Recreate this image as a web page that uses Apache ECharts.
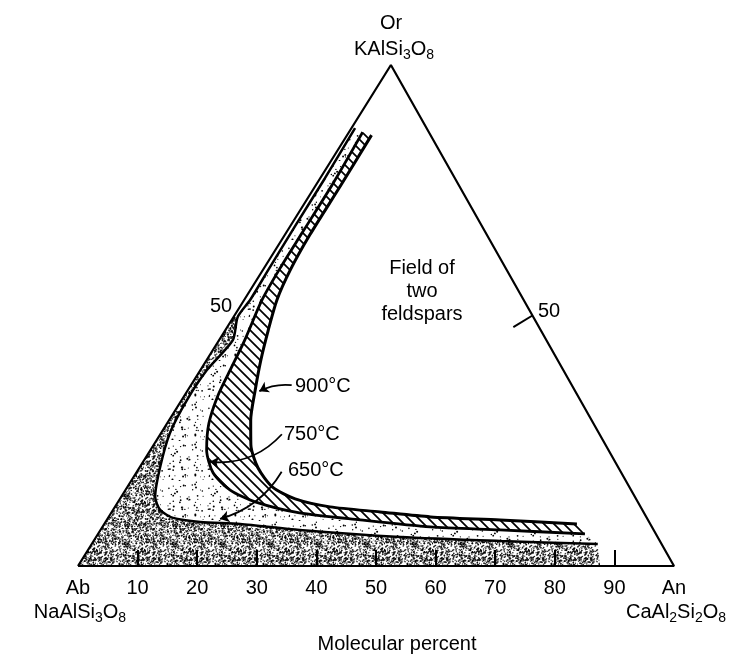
<!DOCTYPE html>
<html><head><meta charset="utf-8">
<script src="https://cdn.jsdelivr.net/npm/echarts@6/dist/echarts.min.js"></script>
<style>html,body{margin:0;padding:0;background:#fff}#c{width:731px;height:655px}</style>
</head><body><div id="c"></div>
<script>
// ---------------- data: compositions in mol % as [An, Or]  (Ab = 100 - An - Or) ----------------
const vertexAb = [0, 0];
const vertexAn = [100, 0];
const vertexOr = [0, 100];
const baseTicks = [10, 20, 30, 40, 50, 60, 70, 80, 90];
const baseLabelValues = [0, 10, 20, 30, 40, 50, 60, 70, 80, 90, 100];
const baseLabelNames = { 0: 'Ab', 100: 'An' };

// 900 °C solvus (outer limit of the hatched field)
const curve900 = [[4.1,86.0],[4.2,76.0],[4.2,66.1],[4.6,59.1],[5.5,53.1],[7.2,47.1],[9.1,41.1],[11.3,35.1],[13.7,29.1],[16.3,24.2],[19.9,19.6],[24.3,15.8],[29.4,13.4],[36.1,11.8],[45.0,10.8],[54.0,9.8],[66.0,9.2],[79.3,8.4]];
// 750 °C solvus
const curve750 = [[2.3,86.6],[2.7,76.4],[2.7,66.5],[2.7,59.5],[3.0,53.1],[4.3,45.1],[5.0,39.1],[5.6,34.1],[7.0,28.5],[9.4,23.2],[12.9,18.6],[17.5,15.2],[23.0,12.8],[31.6,10.6],[42.5,9.2],[55.0,7.8],[67.0,7.2],[81.7,6.4]];
// 650 °C solvus
const curve650 = [[0.6,87.4],[0.8,77.4],[0.8,67.9],[0.9,59.1],[1.0,53.1],[0.7,49.7],[2.3,45.1],[1.1,39.1],[0.9,33.1],[1.5,26.5],[3.4,19.8],[5.7,13.8],[7.9,11.2],[10.9,9.6],[15.9,8.8],[22.8,8.4],[33.4,7.2],[51.0,5.8],[68.2,5.0],[84.9,4.4]];
const field650Base = [87.6, 0];
const field650EdgeTop = [0, 49.7];

const tickOr50Right = [[50, 50], [48.0, 47.7]];
const arrow900 = [[16.9, 36.1], [12.1, 34.9]];
const arrow750 = [[20.4, 26.3], [11.2, 20.8]];
const arrow650 = [[24.3, 18.8], [18.9, 9.4]];
const tempLabels = ['900°C', '750°C', '650°C'];
const fieldLabel = 'Field of\ntwo\nfeldspars';

// ---------------- helpers ----------------
const SKEW = 0.525; // horizontal offset of the apex per unit Or (as drawn)
const toXY = p => [p[0] + SKEW * p[1], p[1]];
const FONT = '"Liberation Sans", Arial, Helvetica, sans-serif';

function hatchPattern() {
  const c = document.createElement('canvas'); c.width = c.height = 10;
  const g = c.getContext('2d');
  g.strokeStyle = '#000'; g.lineWidth = 1.7; g.beginPath();
  g.moveTo(-3, -3); g.lineTo(13, 13);
  g.moveTo(-3, 7); g.lineTo(3, 13);
  g.moveTo(7, -3); g.lineTo(13, 3);
  g.stroke();
  return c;
}
function stipplePattern(size, n, r, seed, alpha) {
  const c = document.createElement('canvas'); c.width = c.height = size;
  const g = c.getContext('2d');
  let s = seed;
  const nx = () => { s = (s * 16807) % 2147483647; return s / 2147483647; };
  g.fillStyle = 'rgba(0,0,0,' + alpha + ')';
  for (let i = 0; i < n; i++) {
    const x = nx() * size, y = nx() * size;
    g.beginPath(); g.arc(x, y, r * (0.6 + 0.6 * nx()), 0, Math.PI * 2); g.fill();
  }
  return c;
}
const hatchFill = { image: hatchPattern(), repeat: 'repeat' };
const lightFill = { image: stipplePattern(40, 60, 0.85, 7, 1), repeat: 'repeat' };
const denseFill = { image: stipplePattern(48, 900, 0.8, 31, 0.85), repeat: 'repeat' };

function polygonSeries(pts, fill, z) {
  return {
    type: 'custom', coordinateSystem: 'cartesian2d', silent: true, z: z,
    data: [toXY(pts[0])],
    renderItem: (params, api) => ({
      type: 'polygon',
      shape: { points: pts.map(p => api.coord(toXY(p))) },
      style: { fill: fill, stroke: null }
    })
  };
}
function lineSeries(pts, width, z) {
  return {
    type: 'line', data: pts.map(toXY), showSymbol: false, silent: true, smooth: 0.25,
    lineStyle: { color: '#000', width: width }, z: z, animation: false
  };
}
function arrowSeries(pts, curv) {
  return {
    type: 'lines', coordinateSystem: 'cartesian2d', silent: true, z: 6,
    symbol: ['none', 'arrow'], symbolSize: 9,
    lineStyle: { color: '#000', width: 1.8, curveness: curv, opacity: 1 },
    data: [{ coords: pts.map(toXY) }]
  };
}

const hatchPoly = curve750.concat(curve900.slice().reverse());
const lightPoly = curve650.concat(curve750.slice().reverse());
const densePoly = [vertexAb, field650EdgeTop].concat(curve650.slice(5)).concat([field650Base]);

const sub = { fontSize: 14, fontFamily: FONT, verticalAlign: 'bottom', lineHeight: 14, fill: '#000', color: '#000' };
const nrm = { fontSize: 20, fontFamily: FONT, lineHeight: 26, fill: '#000', color: '#000' };

const chart = echarts.init(document.getElementById('c'), null, { renderer: 'canvas' });
chart.setOption({
  animation: false,
  backgroundColor: '#fff',
  grid: { left: 78, right: 57, top: 65, bottom: 89 },
  xAxis: {
    type: 'value', min: 0, max: 100, interval: 10,
    axisLine: { show: false }, splitLine: { show: false },
    axisTick: { show: true, inside: true, length: 16, customValues: baseTicks, lineStyle: { color: '#000', width: 2 } },
    axisLabel: {
      customValues: baseLabelValues, margin: 12, color: '#000', fontSize: 20, fontFamily: FONT,
      formatter: v => baseLabelNames[v] || String(v)
    }
  },
  yAxis: { type: 'value', min: 0, max: 100, show: false },
  series: [
    polygonSeries(densePoly, denseFill, 1),
    polygonSeries(lightPoly, lightFill, 1),
    polygonSeries(hatchPoly, hatchFill, 1),
    lineSeries(curve650, 2.5, 4),
    lineSeries(curve750, 2.8, 4),
    lineSeries(curve900, 3, 4),
    { type: 'line', data: [vertexAb, vertexAn, vertexOr, vertexAb].map(toXY), showSymbol: false, silent: true,
      lineStyle: { color: '#000', width: 2.2 }, z: 5 },
    { type: 'line', data: tickOr50Right.map(toXY), showSymbol: false, silent: true,
      lineStyle: { color: '#000', width: 2 }, z: 5 },
    arrowSeries(arrow900, -0.15),
    arrowSeries(arrow750, 0.25),
    arrowSeries(arrow650, 0.2)
  ],
  graphic: [
    { type: 'text', x: 391, y: 23, style: { text: 'Or', font: '20px ' + FONT, fill: '#000', align: 'center', verticalAlign: 'middle' } },
    { type: 'text', x: 394, y: 49, style: { text: '{n|KAlSi}{s|3}{n|O}{s|8}', rich: { n: nrm, s: sub }, align: 'center', verticalAlign: 'middle' } },
    { type: 'text', x: 80, y: 612, style: { text: '{n|NaAlSi}{s|3}{n|O}{s|8}', rich: { n: nrm, s: sub }, align: 'center', verticalAlign: 'middle' } },
    { type: 'text', x: 676, y: 612, style: { text: '{n|CaAl}{s|2}{n|Si}{s|2}{n|O}{s|8}', rich: { n: nrm, s: sub }, align: 'center', verticalAlign: 'middle' } },
    { type: 'text', x: 397, y: 644, style: { text: 'Molecular percent', font: '20px ' + FONT, fill: '#000', align: 'center', verticalAlign: 'middle' } },
    { type: 'text', x: 422, y: 291, style: { text: fieldLabel, font: '20px ' + FONT, fill: '#000', align: 'center', verticalAlign: 'middle', lineHeight: 23 } },
    { type: 'text', x: 221, y: 306, style: { text: '50', font: '20px ' + FONT, fill: '#000', align: 'center', verticalAlign: 'middle' } },
    { type: 'text', x: 549, y: 311, style: { text: '50', font: '20px ' + FONT, fill: '#000', align: 'center', verticalAlign: 'middle' } },
    { type: 'text', x: 295, y: 386, style: { text: tempLabels[0], font: '20px ' + FONT, fill: '#000', align: 'left', verticalAlign: 'middle' } },
    { type: 'text', x: 284, y: 434, style: { text: tempLabels[1], font: '20px ' + FONT, fill: '#000', align: 'left', verticalAlign: 'middle' } },
    { type: 'text', x: 288, y: 470, style: { text: tempLabels[2], font: '20px ' + FONT, fill: '#000', align: 'left', verticalAlign: 'middle' } }
  ]
});
</script></body></html>
